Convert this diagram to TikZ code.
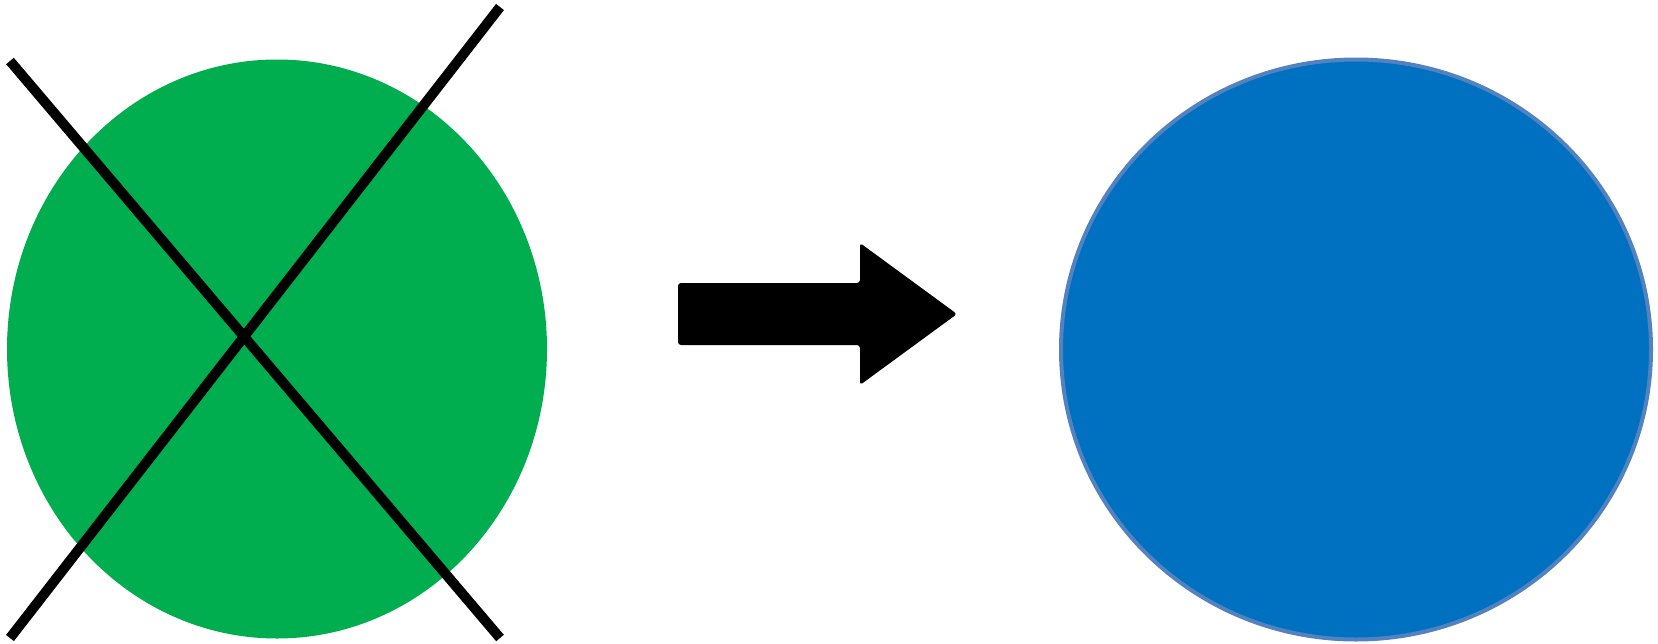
\documentclass[tikz,border=0pt]{standalone}
\usetikzlibrary{shapes.geometric}
\definecolor{okgreen}{HTML}{00AE50}
\definecolor{fillblue}{HTML}{0070C0}
\definecolor{edgeblue}{HTML}{5282C0}
\begin{document}
\begin{tikzpicture}[x=1pt,y=-1pt]
\tikzset{
  greenblob/.style={ellipse, inner sep=0pt, minimum width=540pt, minimum height=579pt},
  blueblob/.style={ellipse, inner sep=0pt, minimum width=590pt, minimum height=580pt},
  crossline/.style={line width=10pt, line cap=butt, black},
  blockarrow/.style={fill=black, rounded corners=3pt}
}
\useasboundingbox (0,0) rectangle (1658,643);
\node[greenblob, fill=okgreen] (green) at (277,349) {};
\node[blueblob, fill=fillblue, draw=edgeblue, line width=4pt] (blue) at (1356,349.5) {};
\coordinate (l1a) at (10,61);
\coordinate (l1b) at (500,638);
\coordinate (l2a) at (10,638);
\coordinate (l2b) at (500,7);
\draw[crossline] (l1a) -- (l1b);
\draw[crossline] (l2a) -- (l2b);
\fill[blockarrow] (678,283) -- (860,283) -- (860,243) -- (957,314) -- (860,385) -- (860,345) -- (678,345) -- cycle;
\end{tikzpicture}
\end{document}
